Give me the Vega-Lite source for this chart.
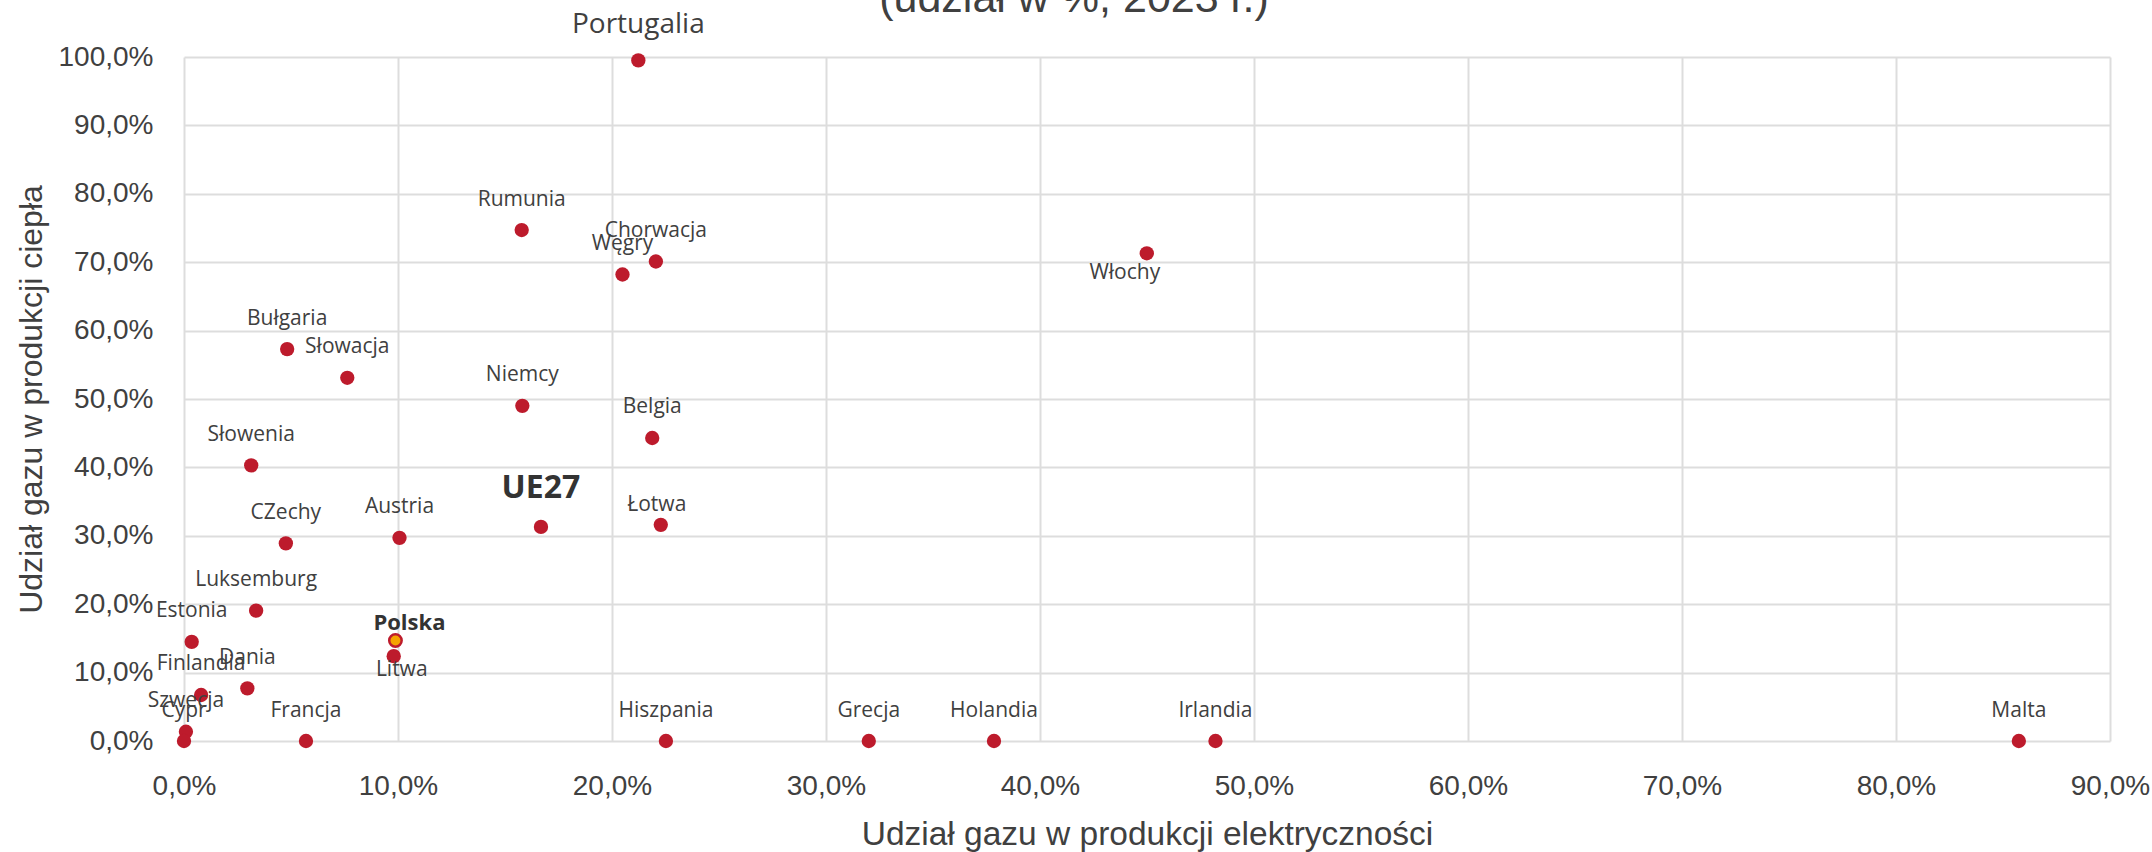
{
  "$schema": "https://vega.github.io/schema/vega-lite/v6.json",
  "width": 1926,
  "height": 684,
  "autosize": {"type": "none"},
  "padding": {"left": 184, "top": 57, "right": 42, "bottom": 111},
  "background": "white",
  "config": {
    "locale": {"number": {"decimal": ",", "thousands": " ", "grouping": [3], "currency": ["", " zł"]}},
    "view": {"stroke": null},
    "axis": {
      "domain": false,
      "ticks": false,
      "grid": true,
      "gridColor": "#DDDDDD",
      "gridWidth": 2,
      "labelFlush": false,
      "labelOverlap": false,
      "labelFont": "Liberation Sans",
      "labelFontSize": 28,
      "labelColor": "#404040",
      "titleFont": "Liberation Sans",
      "titleFontSize": 32,
      "titleFontWeight": "normal",
      "titleColor": "#404040"
    }
  },
  "title": {
    "text": "(udział w %, 2023 r.)",
    "font": "Liberation Sans",
    "fontSize": 43,
    "fontWeight": "normal",
    "color": "#404040",
    "anchor": "middle",
    "dx": -73,
    "dy": 10,
    "offset": 0
  },
  "data": {
    "values": [
      {"kraj": "Portugalia", "elektr": 0.2123, "cieplo": 0.995},
      {"kraj": "Rumunia", "elektr": 0.1578, "cieplo": 0.747},
      {"kraj": "Chorwacja", "elektr": 0.2205, "cieplo": 0.701},
      {"kraj": "Węgry", "elektr": 0.2049, "cieplo": 0.682},
      {"kraj": "Włochy", "elektr": 0.4499, "cieplo": 0.713},
      {"kraj": "Bułgaria", "elektr": 0.0482, "cieplo": 0.573},
      {"kraj": "Słowacja", "elektr": 0.0763, "cieplo": 0.531},
      {"kraj": "Niemcy", "elektr": 0.1581, "cieplo": 0.490},
      {"kraj": "Belgia", "elektr": 0.2188, "cieplo": 0.443},
      {"kraj": "Słowenia", "elektr": 0.0314, "cieplo": 0.403},
      {"kraj": "UE27", "elektr": 0.1668, "cieplo": 0.313},
      {"kraj": "Łotwa", "elektr": 0.2228, "cieplo": 0.316},
      {"kraj": "Austria", "elektr": 0.1007, "cieplo": 0.297},
      {"kraj": "CZechy", "elektr": 0.0476, "cieplo": 0.289},
      {"kraj": "Luksemburg", "elektr": 0.0337, "cieplo": 0.1906},
      {"kraj": "Estonia", "elektr": 0.0036, "cieplo": 0.145},
      {"kraj": "Polska", "elektr": 0.0988, "cieplo": 0.147},
      {"kraj": "Litwa", "elektr": 0.0980, "cieplo": 0.124},
      {"kraj": "Dania", "elektr": 0.0296, "cieplo": 0.077},
      {"kraj": "Finlandia", "elektr": 0.0080, "cieplo": 0.0673},
      {"kraj": "Szwecja", "elektr": 0.0009, "cieplo": 0.0136},
      {"kraj": "Cypr", "elektr": 0.0, "cieplo": 0.0},
      {"kraj": "Francja", "elektr": 0.0570, "cieplo": 0.0},
      {"kraj": "Hiszpania", "elektr": 0.2252, "cieplo": 0.0},
      {"kraj": "Grecja", "elektr": 0.3200, "cieplo": 0.0},
      {"kraj": "Holandia", "elektr": 0.3785, "cieplo": 0.0},
      {"kraj": "Irlandia", "elektr": 0.4820, "cieplo": 0.0},
      {"kraj": "Malta", "elektr": 0.8574, "cieplo": 0.0}
    ]
  },
  "encoding": {
    "x": {
      "field": "elektr",
      "type": "quantitative",
      "scale": {"domain": [0, 0.9], "nice": false, "zero": true},
      "axis": {
        "values": [0, 0.1, 0.2, 0.3, 0.4, 0.5, 0.6, 0.7, 0.8, 0.9],
        "format": ".1%",
        "labelPadding": 31,
        "title": "Udział gazu w produkcji elektryczności",
        "titleFontSize": 33.5,
        "titlePadding": 18
      }
    },
    "y": {
      "field": "cieplo",
      "type": "quantitative",
      "scale": {"domain": [0, 1], "nice": false},
      "axis": {
        "values": [0, 0.1, 0.2, 0.3, 0.4, 0.5, 0.6, 0.7, 0.8, 0.9, 1],
        "format": ".1%",
        "labelPadding": 31,
        "title": "Udział gazu w produkcji ciepła",
        "titlePadding": 10
      }
    }
  },
  "layer": [
    {
      "transform": [{"filter": "datum.kraj !== 'Polska'"}],
      "mark": {"type": "circle", "size": 205, "color": "#BD1B2C", "opacity": 1}
    },
    {
      "transform": [{"filter": "datum.kraj === 'Polska'"}],
      "mark": {"type": "point", "shape": "circle", "filled": true, "size": 155, "fill": "#F5A300", "stroke": "#BD1B2C", "strokeWidth": 2.5, "opacity": 1}
    },
    {
      "transform": [{"filter": "indexof(['Portugalia','Łotwa','Polska','UE27','Włochy','Litwa'], datum.kraj) < 0"}],
      "mark": {"type": "text", "font": "Open Sans", "fontSize": 21, "color": "#404040", "align": "center", "baseline": "alphabetic", "dy": -24.5},
      "encoding": {"text": {"field": "kraj"}}
    },
    {
      "transform": [{"filter": "datum.kraj === 'Portugalia'"}],
      "mark": {"type": "text", "font": "Open Sans", "fontSize": 28, "color": "#404040", "align": "center", "baseline": "alphabetic", "dy": -27},
      "encoding": {"text": {"field": "kraj"}}
    },
    {
      "transform": [{"filter": "datum.kraj === 'Łotwa'"}],
      "mark": {"type": "text", "font": "Open Sans", "fontSize": 21, "color": "#404040", "align": "center", "baseline": "alphabetic", "dx": -4, "dy": -14},
      "encoding": {"text": {"field": "kraj"}}
    },
    {
      "transform": [{"filter": "datum.kraj === 'Polska'"}],
      "mark": {"type": "text", "font": "Open Sans", "fontSize": 22, "fontWeight": "bold", "color": "#333333", "align": "center", "baseline": "alphabetic", "dx": 14, "dy": -10},
      "encoding": {"text": {"field": "kraj"}}
    },
    {
      "transform": [{"filter": "datum.kraj === 'UE27'"}],
      "mark": {"type": "text", "font": "Open Sans", "fontSize": 32, "fontWeight": "bold", "color": "#333333", "align": "center", "baseline": "alphabetic", "dy": -29},
      "encoding": {"text": {"field": "kraj"}}
    },
    {
      "transform": [{"filter": "datum.kraj === 'Włochy'"}],
      "mark": {"type": "text", "font": "Open Sans", "fontSize": 21, "color": "#404040", "align": "center", "baseline": "alphabetic", "dx": -22, "dy": 26},
      "encoding": {"text": {"field": "kraj"}}
    },
    {
      "transform": [{"filter": "datum.kraj === 'Litwa'"}],
      "mark": {"type": "text", "font": "Open Sans", "fontSize": 21, "color": "#404040", "align": "center", "baseline": "alphabetic", "dx": 8, "dy": 20},
      "encoding": {"text": {"field": "kraj"}}
    }
  ]
}
